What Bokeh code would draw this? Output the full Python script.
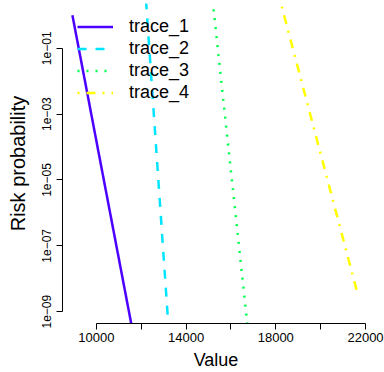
from bokeh.plotting import figure
from bokeh.models import Range1d, FixedTicker, Legend, LegendItem
from bokeh.embed import file_html
from bokeh.resources import INLINE
import math

# ---- data ----
trace_names = ["trace_1", "trace_2", "trace_3", "trace_4"]
trace_colors = ["#4C00FF", "#00E5FF", "#00FF4D", "#FFFF00"]
trace_dashes = ["solid", "9 9", "2 7", "2 7 9 7"]

trace1_x = [8935, 11735]
trace1_p = [1.0, 1e-10]
trace2_x = [12160, 13270]
trace2_p = [10.0, 1e-10]
trace3_x = [15098, 16830]
trace3_p = [10.0, 1e-10]
trace4_x = [17983, 21670]
trace4_p = [10.0, 3e-9]

x_lim = [9000, 21670]
y_lim = [1e-9, 1.0]

x_ticks = [10000, 12000, 14000, 16000, 18000, 20000, 22000]
x_tick_labels = ["10000", "", "14000", "", "18000", "", "22000"]
y_ticks = [1e-9, 1e-7, 1e-5, 1e-3, 1e-1]
y_tick_labels = ["1e\u221209", "1e\u221207", "1e\u221205", "1e\u221203", "1e\u221201"]

# ---- ranges (R-style 4% padding) ----
xpad = 0.04 * (x_lim[1] - x_lim[0])
ly0, ly1 = math.log10(y_lim[0]), math.log10(y_lim[1])
ypad = 0.04 * (ly1 - ly0)

FONT = "Liberation Sans"

p = figure(width=384, height=372,
           x_range=Range1d(x_lim[0] - xpad, x_lim[1] + xpad),
           y_range=Range1d(10 ** (ly0 - ypad), 10 ** (ly1 + ypad)),
           y_axis_type="log",
           output_backend="svg", toolbar_location=None,
           min_border_left=62, min_border_right=15,
           min_border_top=3, min_border_bottom=48)

p.outline_line_color = None
p.xgrid.visible = False
p.ygrid.visible = False
p.background_fill_color = "white"
p.border_fill_color = "white"

xs = [trace1_x, trace2_x, trace3_x, trace4_x]
ps = [trace1_p, trace2_p, trace3_p, trace4_p]
renderers = []
for x, pr, c, d in zip(xs, ps, trace_colors, trace_dashes):
    r = p.line(x, pr, line_color=c, line_width=2.5, line_dash=d)
    renderers.append(r)

# x axis
xa = p.xaxis[0]
xa.ticker = FixedTicker(ticks=x_ticks, minor_ticks=[])
xa.major_label_overrides = {t: l for t, l in zip(x_ticks, x_tick_labels)}
xa.bounds = (x_ticks[0], x_ticks[-1])
xa.axis_label = "Value"

# y axis
ya = p.yaxis[0]
ya.ticker = FixedTicker(ticks=y_ticks, minor_ticks=[])
ya.major_label_overrides = {t: l for t, l in zip(y_ticks, y_tick_labels)}
ya.bounds = (y_ticks[0], y_ticks[-1])
ya.axis_label = "Risk probability"
ya.major_label_orientation = "vertical"

for ax in (xa, ya):
    ax.axis_line_color = "black"
    ax.axis_line_width = 1
    ax.major_tick_line_color = "black"
    ax.major_tick_out = 6
    ax.major_tick_in = 0
    ax.minor_tick_out = 0
    ax.minor_tick_in = 0
    ax.major_label_text_font = FONT
    ax.major_label_text_color = "black"
    ax.axis_label_text_font = FONT
    ax.axis_label_text_font_style = "normal"
    ax.axis_label_text_color = "black"

xa.major_label_text_font_size = "13px"
xa.major_label_standoff = 3
xa.axis_label_text_font_size = "18px"
xa.axis_label_standoff = 5

ya.major_label_text_font_size = "12px"
ya.major_label_standoff = 5
ya.axis_label_text_font_size = "20px"
ya.axis_label_standoff = 11

legend = Legend(
    items=[LegendItem(label=n, renderers=[r]) for n, r in zip(trace_names, renderers)],
    location=(15, 220),
    glyph_width=36, glyph_height=21, label_height=21,
    label_standoff=16, spacing=1, padding=0, margin=0,
    border_line_color=None, background_fill_alpha=0,
    label_text_font=FONT, label_text_font_size="18px", label_text_color="black",
)
p.add_layout(legend)

open("out.html", "w").write(file_html(p, INLINE))
